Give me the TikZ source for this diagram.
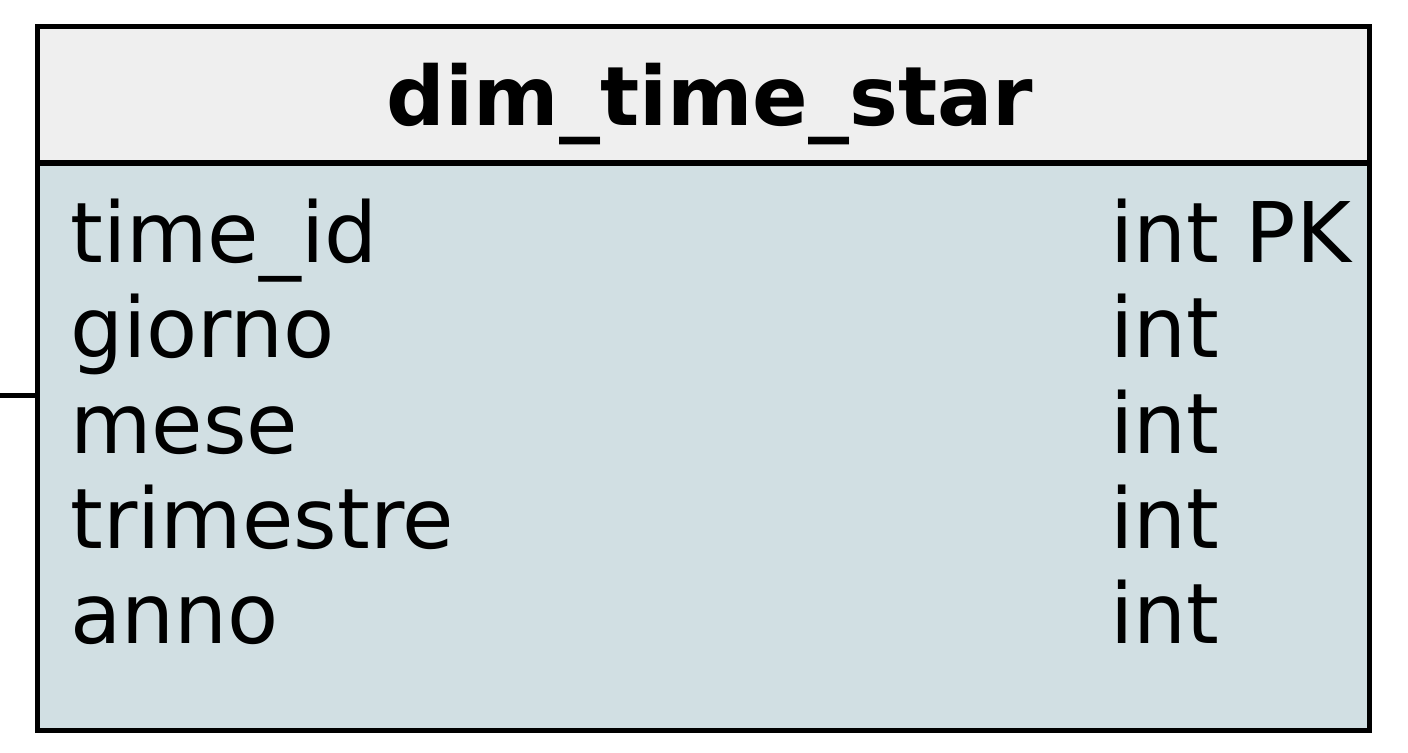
\documentclass[tikz,border=0pt]{standalone}
\usepackage{fontspec}
\setmainfont{DejaVu Sans}
\definecolor{headgray}{RGB}{239,239,239}
\definecolor{bodyblue}{RGB}{209,223,227}

\begin{document}
\begin{tikzpicture}[x=0.02cm, y=-0.02cm]
\tikzset{tabhead/.style={draw, line width=2.85pt, fill=headgray, inner sep=0pt, minimum width=26.66cm, minimum height=2.73cm},
  tabbody/.style={draw, line width=2.85pt, fill=bodyblue, inner sep=0pt, minimum width=26.66cm, minimum height=11.36cm},
  champ/.style={anchor=base west, inner sep=0pt, font=\fontsize{47.6}{57}\selectfont}}
\useasboundingbox (0,0) rectangle (1408,752);
\node[tabbody] (body) at (703.5,447) {};
\node[tabhead] (head) at (703.5,94.5) {};
\node[inner sep=0pt, anchor=base, font=\fontsize{46.7}{56}\selectfont\bfseries] (titre) at (710,125) {dim\_time\_star};
\node[champ] (N1) at (70,262) {time\_id};
\node[champ] (N2) at (70,357) {giorno};
\node[champ] (N3) at (70,453) {mese};
\node[champ] (N4) at (70,548) {trimestre};
\node[champ] (N5) at (70,643) {anno};
\node[champ] (T1) at (1110,262) {int PK};
\node[champ] (T2) at (1110,357) {int};
\node[champ] (T3) at (1110,453) {int};
\node[champ] (T4) at (1110,548) {int};
\node[champ] (T5) at (1110,643) {int};
\coordinate (lien) at (0,395);
\draw[line width=2.85pt] (lien) -- (lien -| body.west);
\end{tikzpicture}
\end{document}
